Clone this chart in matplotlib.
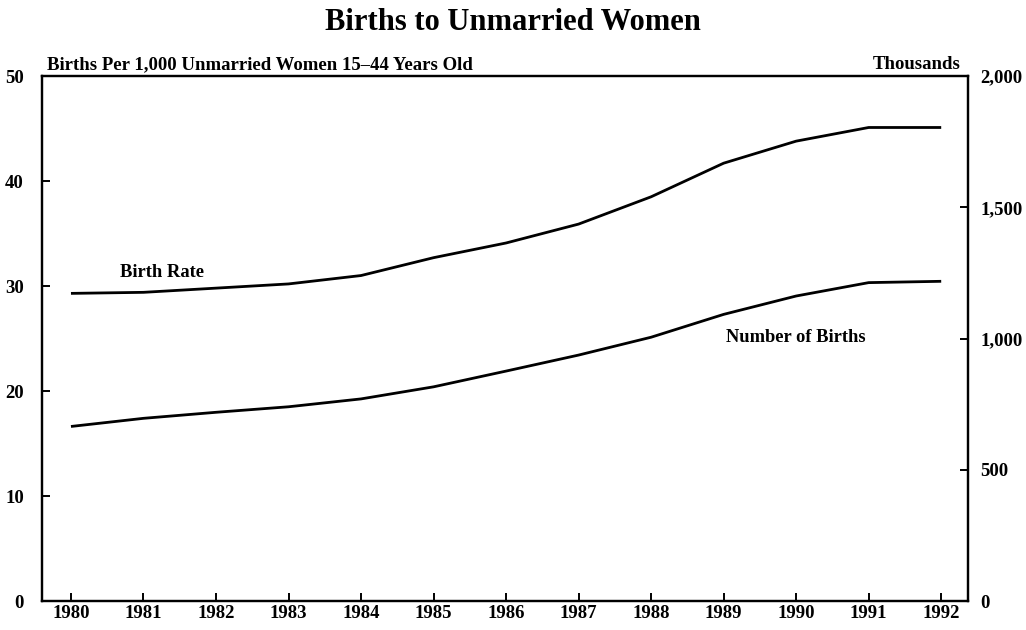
import matplotlib
matplotlib.use("Agg")
import matplotlib.pyplot as plt
from matplotlib.ticker import FuncFormatter

years = [1980, 1981, 1982, 1983, 1984, 1985, 1986, 1987, 1988, 1989, 1990, 1991, 1992]
birth_rate = [29.3, 29.4, 29.8, 30.2, 31.0, 32.7, 34.1, 35.9, 38.5, 41.7, 43.8, 45.1, 45.1]
births_thousands = [665, 696, 719, 740, 770, 816, 876, 937, 1005, 1092, 1162, 1213, 1218]
left_ticks = [0, 10, 20, 30, 40, 50]
right_ticks = [0, 500, 1000, 1500, 2000]

plt.rcParams['font.family'] = ['Liberation Serif', 'DejaVu Serif']
plt.rcParams['font.weight'] = 'bold'

fig = plt.figure(figsize=(10.26, 6.30), dpi=100)
ax = fig.add_axes([0.0409, 0.046, 0.9026, 0.8333])
ax2 = ax.twinx()

ax.plot(years, birth_rate, color='black', lw=2.0, solid_capstyle='butt')
ax2.plot(years, births_thousands, color='black', lw=2.0, solid_capstyle='butt')

ax.set_xlim(1979.6, 1992.37)
ax.set_ylim(0, 50)
ax2.set_ylim(0, 2000)
ax.set_xticks(years)
ax.set_xticklabels([str(y) for y in years])
ax.set_yticks(left_ticks)
ax2.set_yticks(right_ticks)
ax2.yaxis.set_major_formatter(FuncFormatter(lambda v, p: f"{int(v):,}"))

for a in (ax, ax2):
    for s in a.spines.values():
        s.set_linewidth(1.6)
        s.set_color('black')
    a.tick_params(direction='in', length=6, width=1.4, labelsize=13.5, pad=9)
ax.tick_params(axis='x', pad=3)
ax.tick_params(axis='y', pad=13)

for lab in ax.get_xticklabels() + ax.get_yticklabels() + ax2.get_yticklabels():
    lab.set_fontweight('bold')

fig.text(0.5, 0.965, "Births to Unmarried Women", ha='center', va='center',
         fontsize=22, fontweight='bold')
ax.text(0.005, 1.006, "Births Per 1,000 Unmarried Women 15\u201344 Years Old",
        transform=ax.transAxes, ha='left', va='bottom', fontsize=13.5, fontweight='bold')
ax.text(0.992, 1.006, "Thousands", transform=ax.transAxes, ha='right', va='bottom',
        fontsize=13.5, fontweight='bold')

ax.text(1981.25, 31.3, "Birth Rate", ha='center', va='center', fontsize=13.3, fontweight='bold')
ax.text(1990.0, 25.1, "Number of Births", ha='center', va='center', fontsize=13.3, fontweight='bold')

fig.savefig("out.png", dpi=100)
